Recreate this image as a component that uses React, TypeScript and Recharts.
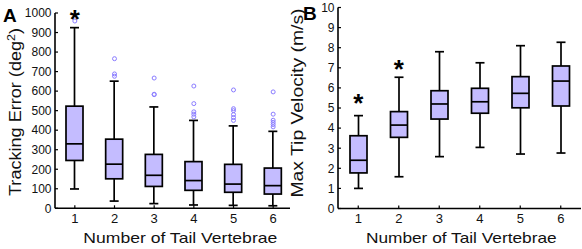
import React from 'react';
import { ComposedChart, Bar, Line, XAxis, YAxis, Label } from 'recharts';

const categories = ['1', '2', '3', '4', '5', '6'];

// Panel A: Tracking Error (deg^2)
const errLow = [99, 37, 24, 17, 15, 13];
const errQ1 = [245, 151, 112, 92, 82, 73];
const errMedian = [330, 226, 169, 142, 124, 116];
const errQ3 = [523, 354, 276, 239, 225, 206];
const errHigh = [925, 651, 519, 450, 422, 394];
const errOutliers: number[][] = [
  [959],
  [766, 688, 676],
  [667, 584, 582],
  [626, 536, 494, 482, 468],
  [606, 510, 500, 480, 465, 450],
  [596, 482, 451, 440, 429, 417],
];
const errStars: (number | null)[] = [1000, null, null, null, null, null];
const errTicks = [0, 100, 200, 300, 400, 500, 600, 700, 800, 900, 1000];

// Panel B: Max Tip Velocity (m/s)
const velLow = [1.0, 1.58, 2.58, 3.04, 2.71, 2.76];
const velQ1 = [1.77, 3.54, 4.45, 4.74, 5.01, 5.1];
const velMedian = [2.4, 4.15, 5.2, 5.31, 5.73, 6.34];
const velQ3 = [3.62, 4.82, 5.86, 5.98, 6.56, 7.09];
const velHigh = [4.62, 6.53, 7.8, 7.25, 8.1, 8.27];
const velOutliers: number[][] = [[], [], [], [], [], []];
const velStars: (number | null)[] = [5.56, 7.22, null, null, null, null];
const velTicks = [0, 1, 2, 3, 4, 5, 6, 7, 8, 9, 10];

const FONT = '"Liberation Sans", Arial, Helvetica, sans-serif';
const BOX_FILL = '#c4bcff';
const OUT_COLOR = '#8a7cff';
const SW = 1.7;

function buildRows(low: number[], q1: number[], med: number[], q3: number[], high: number[], outs: number[][], stars: (number | null)[]) {
  return categories.map((c, i) => {
    const row: any = { cat: c, range: [low[i], high[i]], q1: q1[i], med: med[i], q3: q3[i], star: stars[i] };
    for (let k = 0; k < 7; k++) row['o' + k] = outs[i][k] ?? null;
    return row;
  });
}

const errRows = buildRows(errLow, errQ1, errMedian, errQ3, errHigh, errOutliers, errStars);
const velRows = buildRows(velLow, velQ1, velMedian, velQ3, velHigh, velOutliers, velStars);

const BoxShape = (props: any) => {
  const { x, y, width, height, payload } = props;
  if (x == null || y == null || !payload) return <g />;
  const [lo, hi] = payload.range;
  const top = Math.min(y, y + height);
  const bottom = Math.max(y, y + height);
  const py = (v: number) => top + ((hi - v) / (hi - lo)) * (bottom - top);
  const cx = x + width / 2;
  const cap = 4.5;
  const yq1 = py(payload.q1);
  const yq3 = py(payload.q3);
  const ym = py(payload.med);
  return (
    <g>
      <line x1={cx} x2={cx} y1={top} y2={bottom} stroke="#000" strokeWidth={SW} />
      <line x1={cx - cap} x2={cx + cap} y1={top} y2={top} stroke="#000" strokeWidth={SW} />
      <line x1={cx - cap} x2={cx + cap} y1={bottom} y2={bottom} stroke="#000" strokeWidth={SW} />
      <rect x={x} y={yq3} width={width} height={yq1 - yq3} fill={BOX_FILL} stroke="#000" strokeWidth={SW} />
      <line x1={x} x2={x + width} y1={ym} y2={ym} stroke="#000" strokeWidth={SW} />
    </g>
  );
};

const outlierDot = (p: any) => {
  if (p.value == null || p.cy == null || Number.isNaN(p.cy)) return <g key={'n' + p.index} />;
  return <circle key={'c' + p.index} cx={p.cx} cy={p.cy} r={2} fill="none" stroke={OUT_COLOR} strokeWidth={1} />;
};

const STAR_FS = 26;
const starDot = (p: any) => {
  if (p.value == null || p.cy == null || Number.isNaN(p.cy)) return <g key={'n' + p.index} />;
  return (
    <text key={'s' + p.index} x={p.cx} y={p.cy + 0.58 * STAR_FS} textAnchor="middle" fontSize={STAR_FS} fontWeight="bold" fontFamily={FONT} fill="#000">
      *
    </text>
  );
};

const XTick = (props: any) => {
  const { x, y, payload } = props;
  return (
    <g>
      <line x1={x} x2={x} y1={y} y2={y - 3} stroke="#000" strokeWidth={1.2} />
      <text x={x} y={y + 14.5} textAnchor="middle" fontSize={13} fontFamily={FONT} fill="#111">
        {payload.value}
      </text>
    </g>
  );
};

const YTick = (props: any) => {
  const { x, y, payload } = props;
  return (
    <g>
      <line x1={x} x2={x + 3} y1={y} y2={y} stroke="#000" strokeWidth={1.2} />
      <text x={x - 3.5} y={y + 4.3} textAnchor="end" fontSize={12} fontFamily={FONT} fill="#111">
        {payload.value}
      </text>
    </g>
  );
};

const outlierKeys = ['o0', 'o1', 'o2', 'o3', 'o4', 'o5', 'o6'];

type PanelProps = {
  rows: any[];
  width: number;
  margin: any;
  yWidth: number;
  xHeight: number;
  domain: [number, number];
  ticks: number[];
  yLabel: (vb: any) => React.ReactNode;
  xLabel: (vb: any) => React.ReactNode;
};

const Panel = ({ rows, width, margin, yWidth, xHeight, domain, ticks, yLabel, xLabel }: PanelProps) => (
  <ComposedChart width={width} height={249} data={rows} margin={margin}>
    <XAxis
      dataKey="cat"
      type="category"
      height={xHeight}
      tickSize={0}
      tickMargin={0}
      tick={<XTick />}
      axisLine={{ stroke: '#000', strokeWidth: 1.6 }}
      tickLine={false}
      interval={0}
    >
      <Label content={(p: any) => xLabel(p.viewBox)} />
    </XAxis>
    <YAxis
      type="number"
      domain={domain}
      ticks={ticks}
      width={yWidth}
      tickSize={0}
      tickMargin={0}
      tick={<YTick />}
      axisLine={{ stroke: '#000', strokeWidth: 1.6 }}
      tickLine={false}
      interval={0}
    >
      <Label content={(p: any) => yLabel(p.viewBox)} />
    </YAxis>
    <Bar dataKey="range" barSize={17} shape={<BoxShape />} isAnimationActive={false} />
    {outlierKeys.map((k) => (
      <Line key={k} dataKey={k} stroke="none" dot={outlierDot} activeDot={false} isAnimationActive={false} legendType="none" />
    ))}
    <Line dataKey="star" stroke="none" dot={starDot} activeDot={false} isAnimationActive={false} legendType="none" />
  </ComposedChart>
);

export default function App() {
  return (
    <div style={{ position: 'absolute', left: 0, top: 0, width: 582, height: 249, background: '#fff' }}>
      <div style={{ position: 'absolute', left: 0, top: 0 }}>
        <Panel
          rows={errRows}
          width={290}
          margin={{ top: 13, right: -3, left: 0, bottom: 0 }}
          yWidth={55}
          xHeight={40.7}
          domain={[0, 1000]}
          ticks={errTicks}
          yLabel={() => (
            <g>
              <text x={3} y={22} fontSize={19} fontWeight="bold" fontFamily={FONT} fill="#000">A</text>
              <text transform="translate(21,112) rotate(-90)" textAnchor="middle" fontSize={16} fontFamily={FONT} fill="#111" textLength={168} lengthAdjust="spacingAndGlyphs">
                Tracking Error (deg<tspan dy={-6} fontSize={11}>2</tspan><tspan dy={6}>)</tspan>
              </text>
            </g>
          )}
          xLabel={() => (
            <text x={180.3} y={243} textAnchor="middle" fontSize={15} fontFamily={FONT} fill="#111" textLength={194} lengthAdjust="spacingAndGlyphs">
              Number of Tail Vertebrae
            </text>
          )}
        />
      </div>
      <div style={{ position: 'absolute', left: 280, top: 0 }}>
        <Panel
          rows={velRows}
          width={302}
          margin={{ top: 7.5, right: 1, left: 0, bottom: 0 }}
          yWidth={58}
          xHeight={40.5}
          domain={[0, 10]}
          ticks={velTicks}
          yLabel={() => (
            <g>
              <text x={23} y={20} fontSize={19} fontWeight="bold" fontFamily={FONT} fill="#000">B</text>
              <text transform="translate(23,103) rotate(-90)" textAnchor="middle" fontSize={16} fontFamily={FONT} fill="#111" textLength={189} lengthAdjust="spacingAndGlyphs">
                Max Tip Velocity (m/s)
              </text>
            </g>
          )}
          xLabel={() => (
            <text x={181.3} y={243} textAnchor="middle" fontSize={15} fontFamily={FONT} fill="#111" textLength={190.7} lengthAdjust="spacingAndGlyphs">
              Number of Tail Vertebrae
            </text>
          )}
        />
      </div>
    </div>
  );
}
